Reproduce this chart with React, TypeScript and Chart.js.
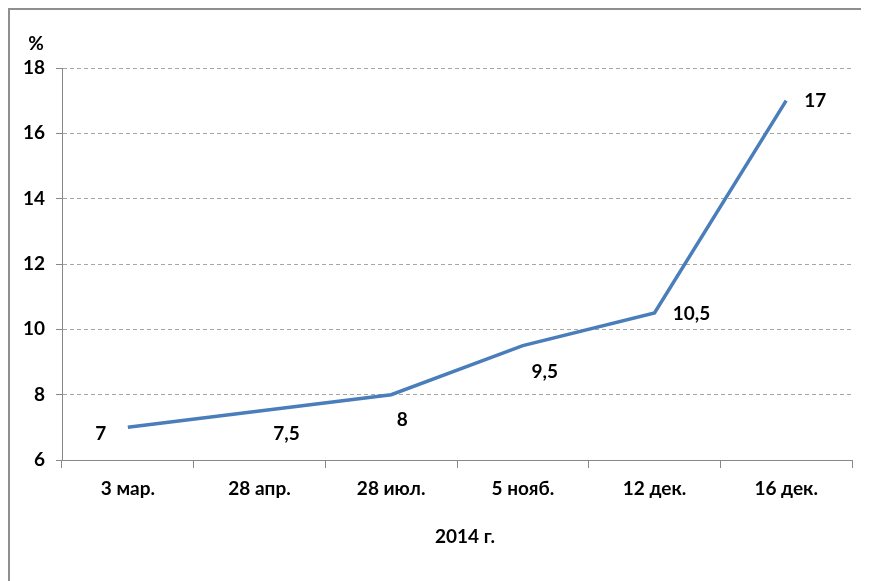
import React, { useEffect, useRef } from "react";
import { Chart, registerables } from "chart.js";

Chart.register(...registerables);

const categories = ["3 мар.", "28 апр.", "28 июл.", "5 нояб.", "12 дек.", "16 дек."];
const values = [7, 7.5, 8, 9.5, 10.5, 17];
const valueLabels = ["7", "7,5", "8", "9,5", "10,5", "17"];
const yTicks = [6, 8, 10, 12, 14, 16, 18];
const axisTitleX = "2014 г.";
const axisTitleY = "%";

// label offsets (px) relative to each point
const labelOffsets: [number, number][] = [
  [-27, 7],
  [27, 23],
  [11, 25],
  [22, 26],
  [37, 1],
  [29, 0],
];

const FONT = "Lato, 'Open Sans', sans-serif";
const FS = 19;

export default function App() {
  const ref = useRef<HTMLCanvasElement | null>(null);
  useEffect(() => {
    if (!ref.current) return;
    document.body.style.overflow = "hidden";
    const labelsPlugin = {
      id: "customLabels",
      afterDatasetsDraw(chart: any) {
        const ctx = chart.ctx;
        const meta = chart.getDatasetMeta(0);
        ctx.save();
        ctx.fillStyle = "#000";
        ctx.font = `bold ${FS}px ${FONT}`;
        ctx.textAlign = "center";
        ctx.textBaseline = "middle";
        meta.data.forEach((pt: any, i: number) => {
          const [dx, dy] = labelOffsets[i];
          ctx.fillText(valueLabels[i], pt.x + dx, pt.y + dy);
        });
        const area = chart.chartArea;
        ctx.fillText(axisTitleY, area.left - 26, area.top - 24);
        ctx.fillText(axisTitleX, (area.left + area.right) / 2 + 8, area.bottom + 77);
        ctx.restore();
      },
    };
    const chart = new Chart(ref.current, {
      type: "line",
      data: {
        labels: categories,
        datasets: [
          {
            data: values,
            borderColor: "#4a7ebb",
            borderWidth: 3.5,
            pointRadius: 0,
            tension: 0,
            fill: false,
          },
        ],
      },
      options: {
        responsive: false,
        animation: false,
        layout: { padding: { top: 58, right: 17, left: 0, bottom: 0 } },
        plugins: { legend: { display: false }, tooltip: { enabled: false } },
        scales: {
          x: {
            offset: true,
            grid: {
              offset: true,
              drawOnChartArea: false,
              drawTicks: true,
              tickLength: 8,
              tickColor: "#888",
            },
            border: { display: true, color: "#888", width: 1 },
            ticks: {
              color: "#000",
              font: { family: FONT, size: FS, weight: "bold" },
              padding: 9,
              maxRotation: 0,
            },
            afterFit: (s: any) => {
              s.height = 121;
            },
          },
          y: {
            min: 6,
            max: 18,
            afterBuildTicks: (s: any) => {
              s.ticks = yTicks.map((v) => ({ value: v }));
            },
            grid: {
              color: "#a6a6a6",
              drawTicks: true,
              tickLength: 6,
              tickColor: "#888",
              tickBorderDash: [],
            },
            border: { display: true, color: "#888", width: 1, dash: [4, 3] },
            ticks: {
              color: "#000",
              font: { family: FONT, size: FS, weight: "bold" },
              padding: 11,
            },
            afterFit: (s: any) => {
              s.width = 52;
            },
          },
        },
      },
      plugins: [labelsPlugin],
    });
    return () => chart.destroy();
  }, []);
  return (
    <div
      style={{
        width: 859,
        height: 571,
        borderLeft: "2px solid #8f8f8f",
        borderTop: "2px solid #8f8f8f",
        overflow: "hidden",
      }}
    >
      <canvas ref={ref} width={859} height={571} style={{ display: "block" }} />
    </div>
  );
}
